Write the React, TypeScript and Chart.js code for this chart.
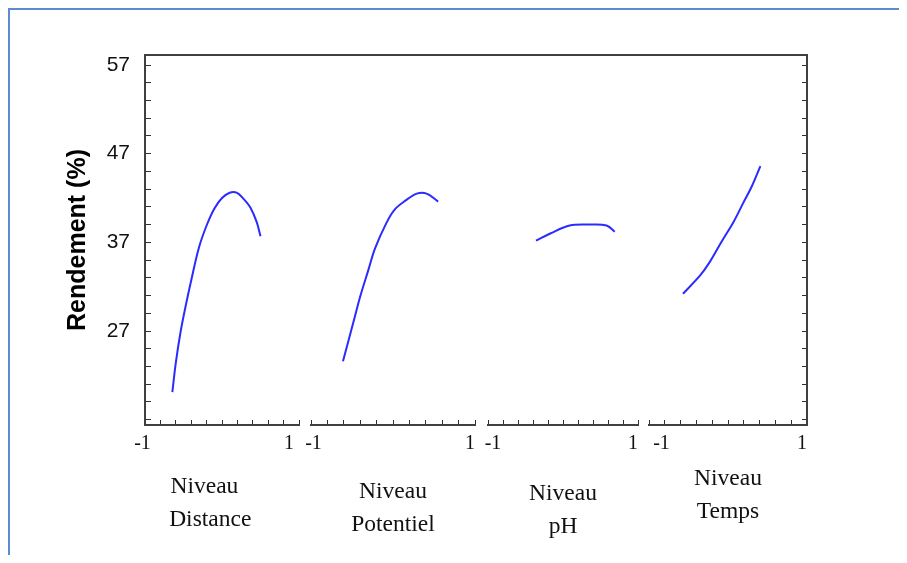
import React, { useEffect, useRef } from 'react';
import { Chart, registerables } from 'chart.js';

Chart.register(...registerables);

// ---- data ----
const panelLabels: string[][] = [
  ['Niveau', 'Distance'],
  ['Niveau', 'Potentiel'],
  ['Niveau', 'pH'],
  ['Niveau', 'Temps'],
];

const distanceX = [-0.645, -0.60, -0.54, -0.47, -0.39, -0.30, -0.20, -0.10, 0.00, 0.10, 0.19, 0.28, 0.37, 0.45, 0.50];
const distanceY = [20.1, 23.4, 26.8, 29.9, 33.1, 36.4, 38.9, 40.8, 42.0, 42.6, 42.6, 41.9, 40.9, 39.3, 37.7];

const potentielX = [-0.61, -0.48, -0.40, -0.30, -0.22, -0.08, 0.02, 0.15, 0.29, 0.41, 0.55];
const potentielY = [23.6, 28.1, 30.9, 33.9, 36.3, 39.2, 40.7, 41.7, 42.5, 42.5, 41.6];

const phX = [-0.36, -0.17, 0.09, 0.36, 0.58, 0.69];
const phY = [37.2, 38.0, 38.9, 39.0, 38.9, 38.2];

const tempsX = [-0.57, -0.35, -0.23, -0.08, 0.07, 0.19, 0.30, 0.41];
const tempsY = [31.2, 33.3, 34.8, 37.1, 39.3, 41.4, 43.3, 45.6];

const seriesX = [distanceX, potentielX, phX, tempsX];
const seriesY = [distanceY, potentielY, phY, tempsY];

const yTickValues = [17, 19, 21, 23, 25, 27, 29, 31, 33, 35, 37, 39, 41, 43, 45, 47, 49, 51, 53, 55, 57];
const yLabelValues = [27, 37, 47, 57];
const xLabelValues = [-1, 1];
const yTitle = 'Rendement (%)';

// ---- layout / style ----
const panelWeights = [154, 164, 150, 158];
const gapWeights = [12, 13, 11];
const titlePadBottom = [18.5, 13.5, 11.5, 26.5];
// spaces used to nudge the -1 / 1 labels sideways (before, after)
const minusLabelPad = [[0, 1], [1, 0], [2, 0], [5, 0]];
const plusLabelPad = [[0, 4], [0, 2], [0, 2], [0, 2]];
const titleTrailPad = [[6, 4], [0, 0], [0, 0], [0, 0]];
const axisColor = '#404040';
const tickColor = '#303030';
const lineColor = '#2b2bff';

const pad = (s: string, before: number, after: number) => ' '.repeat(before) + s + ' '.repeat(after);

export default function App() {
  const ref = useRef<HTMLCanvasElement | null>(null);

  useEffect(() => {
    if (!ref.current) return;

    const scales: any = {
      y: {
        type: 'linear',
        axis: 'y',
        position: 'left',
        min: 16.4,
        max: 58.13,
        afterBuildTicks: (s: any) => {
          s.ticks = yTickValues.map((v) => ({ value: v }));
        },
        afterFit: (s: any) => {
          s.width = 135;
        },
        ticks: {
          autoSkip: false,
          padding: 21,
          color: '#111',
          font: { family: "'Liberation Sans', Arial, sans-serif", size: 21 },
          callback: (v: any) => (yLabelValues.includes(Number(v)) ? String(v) : ''),
        },
        grid: { drawOnChartArea: false, drawTicks: true, tickLength: -6, color: tickColor, lineWidth: 1 },
        border: { display: true, width: 2, color: axisColor },
        title: {
          display: true,
          text: yTitle,
          color: '#000',
          font: { family: "'Liberation Sans', Arial, sans-serif", size: 25, weight: 'bold' },
          padding: { top: 53, bottom: 0 },
        },
      },
      y2: {
        type: 'linear',
        axis: 'y',
        position: 'right',
        min: 16.4,
        max: 58.13,
        afterBuildTicks: (s: any) => {
          s.ticks = yTickValues.map((v) => ({ value: v }));
        },
        afterFit: (s: any) => {
          s.width = 0;
        },
        ticks: { autoSkip: false, padding: 0, callback: () => '' },
        grid: { drawOnChartArea: false, drawTicks: true, tickLength: -5, color: tickColor, lineWidth: 1 },
        border: { display: true, width: 2, color: axisColor },
      },
      xTop: {
        type: 'linear',
        axis: 'x',
        position: 'top',
        min: 0,
        max: 1,
        afterFit: (s: any) => {
          s.height = 0;
        },
        ticks: { display: false },
        grid: { drawOnChartArea: false, drawTicks: false },
        border: { display: true, width: 2, color: axisColor },
      },
    };

    panelLabels.forEach((lbl, i) => {
      scales['x' + i] = {
        type: 'linear',
        axis: 'x',
        position: 'bottom',
        stack: 'panels',
        stackWeight: panelWeights[i],
        min: -1,
        max: 1,
        afterFit: (s: any) => {
          s.height = 130;
        },
        ticks: {
          stepSize: 0.2,
          autoSkip: false,
          maxRotation: 0,
          minRotation: 0,
          padding: 12,
          color: '#111',
          font: { family: "'Liberation Serif', 'Times New Roman', serif", size: 20 },
          callback: (v: any) => {
            const n = Math.round(Number(v) * 1000) / 1000;
            if (!xLabelValues.includes(n)) return '';
            const p = n < 0 ? minusLabelPad[i] : plusLabelPad[i];
            return pad(String(n), p[0], p[1]);
          },
        },
        grid: { drawOnChartArea: false, drawTicks: true, tickLength: -5, color: tickColor, lineWidth: 1 },
        border: { display: true, width: 2, color: axisColor },
        title: {
          display: true,
          text: lbl.map((t, k) => pad(t, 0, titleTrailPad[i][k])),
          color: '#111',
          font: { family: "'Liberation Serif', 'Times New Roman', serif", size: 23.5, lineHeight: 1.4 },
          padding: { top: 0, bottom: titlePadBottom[i] },
        },
      };
      if (i < gapWeights.length) {
        scales['g' + i] = {
          type: 'linear',
          axis: 'x',
          position: 'bottom',
          stack: 'panels',
          stackWeight: gapWeights[i],
          min: 0,
          max: 1,
          ticks: { display: false },
          grid: { display: false },
          border: { display: false },
        };
      }
    });

    const datasets = seriesX.map((xs, i) => ({
      label: panelLabels[i].join(' '),
      data: xs.map((x, j) => ({ x, y: seriesY[i][j] })),
      xAxisID: 'x' + i,
      yAxisID: 'y',
      borderColor: lineColor,
      backgroundColor: lineColor,
      borderWidth: 2,
      pointRadius: 0,
      tension: 0.35,
      fill: false,
    }));

    const chart = new Chart(ref.current, {
      type: 'line',
      data: { datasets },
      options: {
        animation: false,
        responsive: false,
        devicePixelRatio: 1,
        layout: { padding: { top: 45, right: 100, left: 0, bottom: 0 } },
        plugins: { legend: { display: false }, tooltip: { enabled: false } },
        scales,
      } as any,
    });

    return () => chart.destroy();
  }, []);

  return (
    <div
      style={{
        width: 897,
        height: 545,
        borderTop: '2px solid #5b8bd0',
        borderLeft: '2px solid #5b8bd0',
        background: '#fff',
      }}
    >
      <canvas ref={ref} width={897} height={545} style={{ display: 'block', width: 897, height: 545 }} />
    </div>
  );
}
